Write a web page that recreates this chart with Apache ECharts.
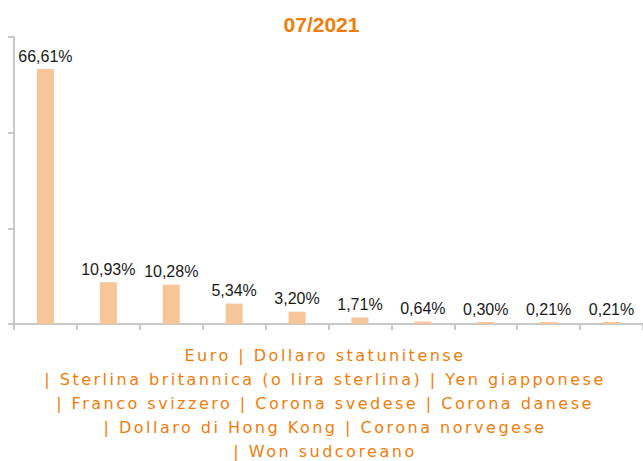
<!DOCTYPE html>
<html>
<head>
<meta charset="utf-8">
<script src="https://cdn.jsdelivr.net/npm/echarts@6/dist/echarts.min.js"></script>
<style>
  html, body { margin: 0; padding: 0; background: #fff; }
  #main { width: 643px; height: 461px; }
  /* didascalia spaziata come nell'originale */
  #main text[fill="#F07D0B"] { letter-spacing: 2.5px; }
</style>
</head>
<body>
<div id="main"></div>
<script>
// valute e quote (%)
var categories = [
  'Euro', 'Dollaro statunitense', 'Sterlina britannica (o lira sterlina)',
  'Yen giapponese', 'Franco svizzero', 'Corona svedese', 'Corona danese',
  'Dollaro di Hong Kong', 'Corona norvegese', 'Won sudcoreano'
]
var values = [66.61, 10.93, 10.28, 5.34, 3.20, 1.71, 0.64, 0.30, 0.21, 0.21]
// indici dove inizia una nuova riga nella didascalia
var lineStarts = [2, 4, 7, 9]

var caption = categories.map(function (c, i) {
  if (i === 0) return c
  return (lineStarts.indexOf(i) >= 0 ? '\n| ' : ' | ') + c
}).join('')

var orange = '#F07D0A'
var axisGray = '#C8C8C8'

var myChart = echarts.init(document.getElementById('main'), null, { renderer: 'svg' })
myChart.setOption({
  animation: false,
  title: {
    text: '07/2021',
    left: 'center',
    top: 9,
    textStyle: {
      color: orange,
      fontSize: 21,
      fontWeight: 'bold',
      fontFamily: 'Liberation Sans, Arial, sans-serif'
    }
  },
  grid: { left: 14, top: 37, width: 632, height: 287, containLabel: false },
  xAxis: {
    type: 'category',
    data: categories,
    axisLine: { lineStyle: { color: axisGray, width: 2 } },
    axisTick: { show: true, interval: 0, length: 6, lineStyle: { color: axisGray, width: 2 } },
    axisLabel: { show: false }
  },
  yAxis: {
    type: 'value',
    min: 0,
    max: 75,
    interval: 25,
    splitLine: { show: false },
    axisLine: { show: true, lineStyle: { color: axisGray, width: 2 } },
    axisTick: { show: true, length: 6, lineStyle: { color: axisGray, width: 2 } },
    axisLabel: { show: false }
  },
  series: [{
    type: 'bar',
    data: values,
    barWidth: 17,
    barMinHeight: 2,
    itemStyle: { color: '#F6C699' },
    label: {
      show: true,
      position: 'top',
      distance: 5,
      color: '#1a1a1a',
      fontSize: 16,
      fontFamily: 'Liberation Sans, Arial, sans-serif',
      formatter: function (p) {
        return p.value.toFixed(2).replace('.', ',') + '%'
      }
    }
  }],
  graphic: [{
    type: 'text',
    x: 325,
    y: 343,
    style: {
      text: caption,
      fill: '#F07D0B',
      fontSize: 16,
      fontFamily: 'DejaVu Sans',
      align: 'center',
      verticalAlign: 'top',
      lineHeight: 24.2
    }
  }]
})
</script>
</body>
</html>
